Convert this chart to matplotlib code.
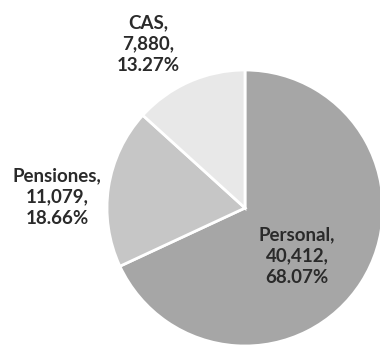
import matplotlib
matplotlib.use('Agg')
import matplotlib.pyplot as plt

categorias = ['Personal', 'Pensiones', 'CAS']
montos = [40412, 11079, 7880]
porcentajes = ['68.07%', '18.66%', '13.27%']
colores = ['#a6a6a6', '#c6c6c6', '#e8e8e8']

plt.rcParams['font.family'] = ['Lato', 'DejaVu Sans']

fig = plt.figure(figsize=(3.8, 3.45), dpi=100)
ax = fig.add_axes([0, 0, 1, 1])

# el eje va en pixeles para ubicar el pastel y las etiquetas
ax.pie(montos, colors=colores, startangle=90, counterclock=False,
       center=(245, 137), radius=138,
       wedgeprops=dict(edgecolor='white', linewidth=2))
ax.set_xlim(0, 380)
ax.set_ylim(0, 345)
ax.set_aspect('equal')
ax.axis('off')

posiciones = [(297, 89), (57, 148), (148, 301)]
for cat, val, pct, (x, y) in zip(categorias, montos, porcentajes, posiciones):
    texto = '{},\n{:,},\n{}'.format(cat, val, pct)
    ax.text(x, y, texto, ha='center', va='center', fontsize=13.5,
            fontweight='bold', color='#2a2a2a', linespacing=1.32)

fig.savefig('out.png', dpi=100)
